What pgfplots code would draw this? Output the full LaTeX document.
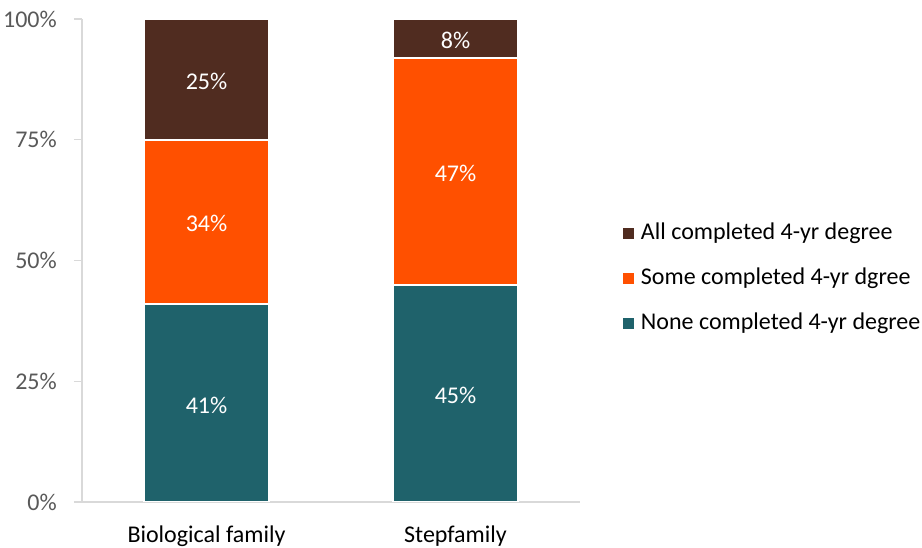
\documentclass[border=0pt]{standalone}
\usepackage{pgfplots}
\pgfplotsset{compat=1.18}
\usepackage{pgfplotstable}
\usepackage{fontspec}
\setmainfont{Carlito}

\definecolor{cAll}{HTML}{502C20}
\definecolor{cSome}{HTML}{FF5000}
\definecolor{cNone}{HTML}{1F626B}
\definecolor{axisgray}{HTML}{D9D9D9}
\definecolor{ticktext}{HTML}{595959}

% x: 0 = Biological family, 1 = Stepfamily
\pgfplotstableread{
x v
0 41
1 45
}\nonetab
\pgfplotstableread{
x v
0 34
1 47
}\sometab
\pgfplotstableread{
x v
0 25
1 8
}\alltab

\begin{document}
\begin{tikzpicture}
\begin{axis}[
    at={(0pt,0pt)}, anchor=south west,
    scale only axis,
    width=498pt, height=483pt,
    xmin=-0.5, xmax=1.5,
    ymin=0, ymax=100,
    ybar stacked,
    bar width=125pt,
    font=\fontsize{24}{29}\selectfont,
    /pgf/number format/assume math mode=true,
    axis lines*=left,
    axis line style={axisgray, line width=1.3pt},
    xtick={0,1},
    xticklabels={Biological family, Stepfamily},
    xtick style={draw=none},
    x tick label style={inner sep=0pt, anchor=north, yshift=-16pt, black},
    ytick={0,25,50,75,100},
    yticklabel={\pgfmathprintnumber{\tick}\%},
    ytick style={axisgray, line width=1.3pt},
    tick align=outside,
    major tick length=8pt,
    y tick label style={inner sep=0pt, anchor=east, xshift=-17pt, ticktext},
    every axis plot/.append style={draw=white, line width=2pt},
    nodes near coords={\pgfmathprintnumber{\pgfplotspointmeta}\%},
    every node near coord/.append style={white, anchor=center, yshift=-2pt},
    legend cell align=left,
    reverse legend,
    legend style={draw=none, fill=none, inner sep=0pt, outer sep=0pt,
        at={(rel axis cs:1.0863,0.4625)}, anchor=west,
        row sep=26pt, column sep=7pt,
        nodes={inner sep=0pt, text height=15pt, text depth=4pt, black}},
    legend image code/.code={\fill[#1, draw=none] (0pt,-5.5pt) rectangle (11pt,5.5pt);},
]
\addplot[fill=cNone, point meta=explicit] table[x=x, y=v, meta=v] {\nonetab};
\addplot[fill=cSome, point meta=explicit] table[x=x, y=v, meta=v] {\sometab};
\addplot[fill=cAll, point meta=explicit] table[x=x, y=v, meta=v] {\alltab};
\legend{None completed 4-yr degree, Some completed 4-yr dgree, All completed 4-yr degree}
\end{axis}
\pgfresetboundingbox
\path[use as bounding box] (-82pt,-46pt) rectangle (840pt,502pt);
\end{tikzpicture}
\end{document}
